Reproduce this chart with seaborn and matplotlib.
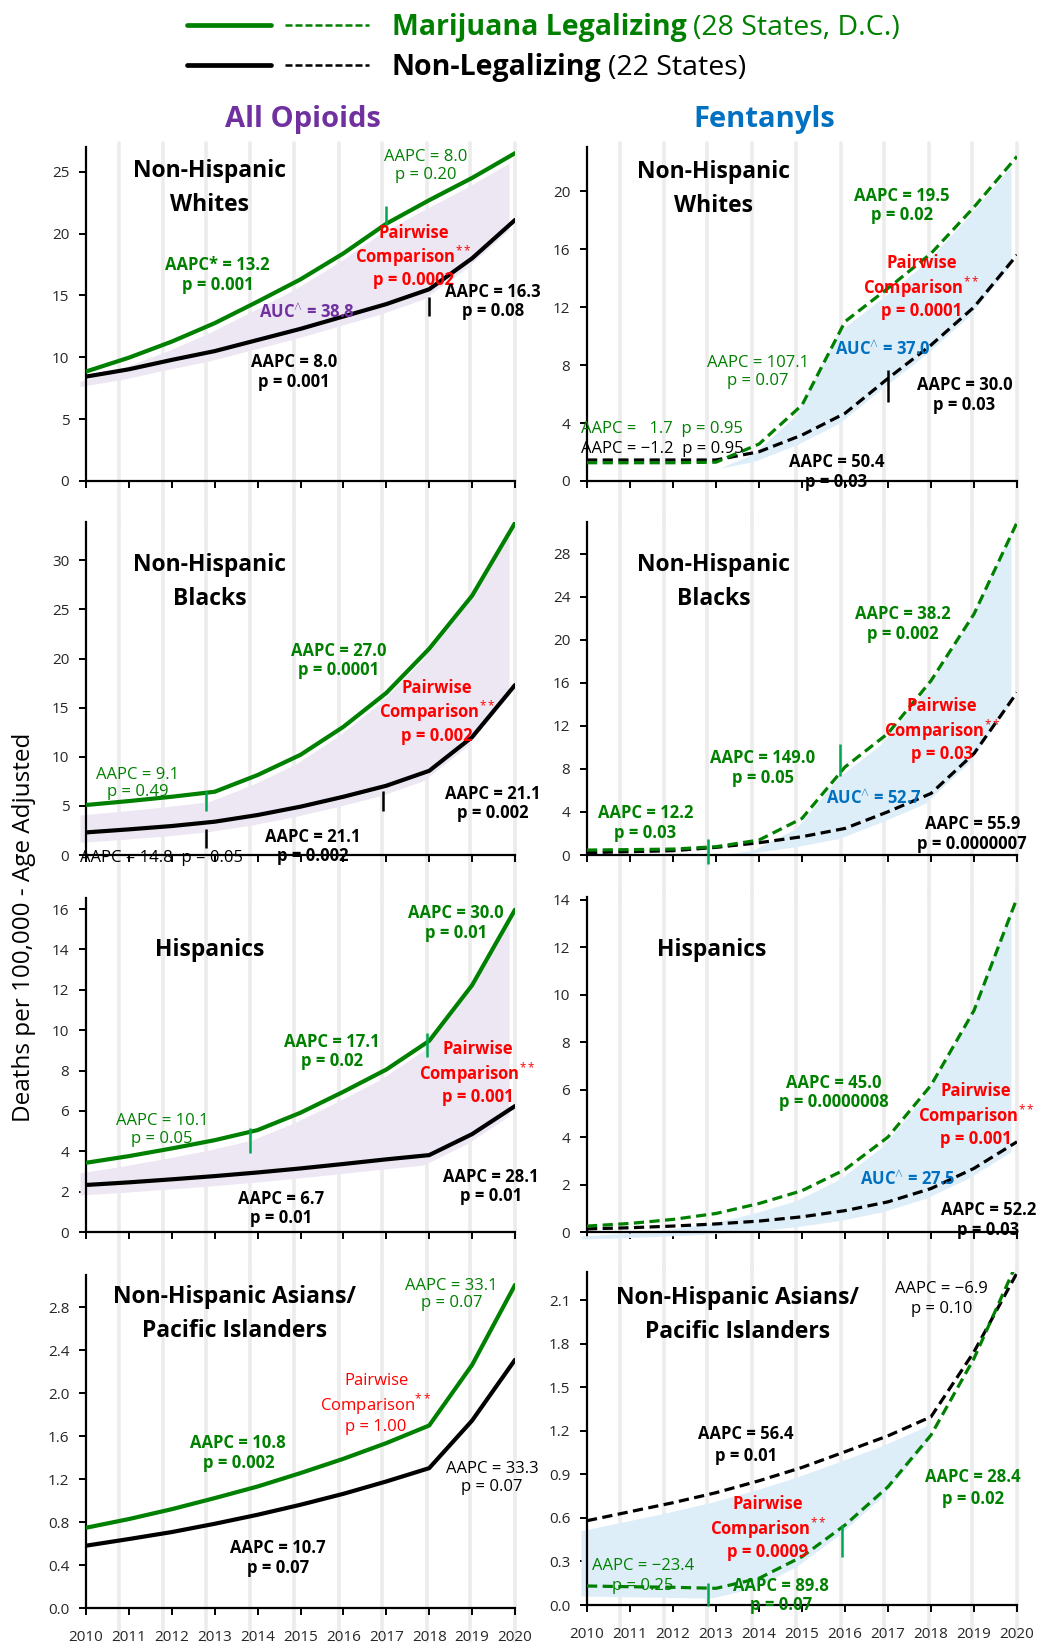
import matplotlib
matplotlib.use("Agg")
import matplotlib.pyplot as plt
import matplotlib.transforms as mtransforms
from matplotlib.lines import Line2D
from matplotlib.legend_handler import HandlerTuple
from matplotlib.text import Annotation
from matplotlib.font_manager import FontProperties
import numpy as np
import seaborn as sns

sns.set_theme(style="white")
plt.rcParams['font.family'] = ['Open Sans', 'DejaVu Sans']
plt.rcParams['mathtext.fontset'] = 'custom'
plt.rcParams['mathtext.rm'] = 'Open Sans'
plt.rcParams['mathtext.bf'] = 'Open Sans:bold'

# ---------------- data ----------------
years = [2010, 2011, 2012, 2013, 2014, 2015, 2016, 2017, 2018, 2019, 2020]

# All opioids (solid lines)
op_nhw_leg = [8.85, 9.97, 11.27, 12.76, 14.5, 16.3, 18.4, 20.8, 22.7, 24.5, 26.5]
op_nhw_non = [8.44, 9.03, 9.79, 10.5, 11.4, 12.3, 13.3, 14.3, 15.5, 18.0, 21.1]
op_nhb_leg = [5.09, 5.49, 5.93, 6.44, 8.14, 10.2, 13.05, 16.5, 21.0, 26.4, 33.8]
op_nhb_non = [2.3, 2.61, 2.95, 3.39, 4.07, 4.92, 5.93, 7.05, 8.57, 12.0, 17.3]
op_his_leg = [3.43, 3.76, 4.14, 4.55, 5.05, 5.91, 6.95, 8.05, 9.47, 12.23, 15.97]
op_his_non = [2.33, 2.46, 2.61, 2.77, 2.95, 3.15, 3.37, 3.6, 3.81, 4.85, 6.24]
op_api_leg = [0.747, 0.828, 0.92, 1.023, 1.131, 1.256, 1.389, 1.535, 1.699, 2.263, 3.007]
op_api_non = [0.58, 0.642, 0.707, 0.784, 0.868, 0.961, 1.063, 1.178, 1.302, 1.745, 2.31]

# Fentanyls (dashed lines)
fen_nhw_leg = [1.26, 1.26, 1.26, 1.3, 2.55, 5.24, 11.0, 13.3, 15.7, 18.9, 22.4]
fen_nhw_non = [1.45, 1.45, 1.45, 1.45, 2.02, 3.17, 4.67, 7.08, 9.38, 12.0, 15.6]
fen_nhb_leg = [0.46, 0.5, 0.55, 0.77, 1.39, 3.4, 8.18, 11.3, 16.2, 22.4, 30.9]
fen_nhb_non = [0.22, 0.31, 0.4, 0.71, 1.14, 1.7, 2.47, 4.02, 5.72, 9.43, 15.1]
fen_his_leg = [0.25, 0.36, 0.53, 0.78, 1.2, 1.74, 2.63, 4.0, 6.18, 9.33, 14.06]
fen_his_non = [0.13, 0.18, 0.25, 0.34, 0.46, 0.64, 0.9, 1.27, 1.83, 2.68, 3.8]
fen_api_leg = [0.131, 0.126, 0.122, 0.115, 0.184, 0.333, 0.551, 0.815, 1.171, 1.699, 2.36]
fen_api_non = [0.581, 0.643, 0.705, 0.774, 0.856, 0.948, 1.056, 1.166, 1.297, 1.745, 2.289]

yticks_op_nhw = [0, 5, 10, 15, 20, 25]
yticks_fen_nhw = [0, 4, 8, 12, 16, 20]
yticks_op_nhb = [0, 5, 10, 15, 20, 25, 30]
yticks_fen_nhb = [0, 4, 8, 12, 16, 20, 24, 28]
yticks_op_his = [0, 2, 4, 6, 8, 10, 12, 14, 16]
yticks_fen_his = [0, 2, 4, 6, 8, 10, 12, 14]
yticks_op_api = [0.0, 0.4, 0.8, 1.2, 1.6, 2.0, 2.4, 2.8]
yticks_fen_api = [0.0, 0.3, 0.6, 0.9, 1.2, 1.5, 1.8, 2.1]

# ---------------- styles ----------------
GREEN = '#008000'
GREEN_MARK = '#00a651'
RED = '#ff0000'
PURPLE = '#7030a0'
BLUE = '#0070c0'
LAVENDER = '#ece7f3'
LIGHTBLUE = '#ddeef9'
GRID = '#ececec'
DASH = (0, (3.2, 1.7))

W, H = 1039, 1644
fig = plt.figure(figsize=(W / 100, H / 100), dpi=100)

def add_ax(l, t, r, b):
    return fig.add_axes([l / W, 1 - b / H, (r - l) / W, (b - t) / H])

grid_offsets = [0.76, 1.79, 2.8, 3.83, 4.86, 5.9, 6.9, 7.95, 8.96, 10.0]

AUC = r"AUC$^{\wedge}$ = "
PAIR = "Pairwise\nComparison$^{**}$\n"
# annotation tuples: (text, x, y, color, weight, ha[, linespacing])
T = 'title'
PW = 'pair'
panels = [
    dict(box=(86, 147, 515, 481), leg=op_nhw_leg, non=op_nhw_non, ls='-', ylim=27.0,
         yticks=yticks_op_nhw, fmt='{:.0f}', band=LAVENDER, band_rng=(2010, 2020),
         marks=[(2017, 20.7, 22.2, GREEN_MARK), (2018, 13.3, 14.9, 'black')],
         texts=[("Non-Hispanic\nWhites", 2012.89, 23.66, 'black', T, 'center'),
                ("AAPC = 8.0\np = 0.20", 2017.91, 25.46, GREEN, 'normal', 'center'),
                ("AAPC* = 13.2\np = 0.001", 2013.07, 16.64, GREEN, 'bold', 'center'),
                (PAIR + "p = 0.0002", 2017.63, 18.15, RED, PW, 'center'),
                (AUC + "38.8", 2015.14, 13.67, PURPLE, 'bold', 'center'),
                ("AAPC = 16.3\np = 0.08", 2019.49, 14.51, 'black', 'bold', 'center'),
                ("AAPC = 8.0\np = 0.001", 2014.84, 8.82, 'black', 'bold', 'center')]),
    dict(box=(587, 147, 1017, 481), leg=fen_nhw_leg, non=fen_nhw_non, ls=DASH, ylim=23.05,
         yticks=yticks_fen_nhw, fmt='{:.0f}', band=LIGHTBLUE, band_rng=(2013.3, 2020),
         marks=[(2017, 5.45, 7.66, 'black')],
         texts=[("Non-Hispanic\nWhites", 2012.95, 20.17, 'black', T, 'center'),
                ("AAPC = 19.5\np = 0.02", 2017.33, 19.01, GREEN, 'bold', 'center'),
                (PAIR + "p = 0.0001", 2017.78, 13.38, RED, PW, 'center'),
                (AUC + "37.0", 2016.88, 9.13, BLUE, 'bold', 'center'),
                ("AAPC = 107.1\np = 0.07", 2013.97, 7.52, GREEN, 'normal', 'center'),
                ("AAPC = 30.0\np = 0.03", 2018.78, 5.93, 'black', 'bold', 'center'),
                ("AAPC =   1.7  p = 0.95", 2009.87, 3.61, GREEN, 'normal', 'left'),
                ("AAPC = \u22121.2  p = 0.95", 2009.87, 2.23, 'black', 'normal', 'left'),
                ("AAPC = 50.4\np = 0.03", 2015.8, 0.6, 'black', 'bold', 'center')]),
    dict(box=(86, 522, 515, 855), leg=op_nhb_leg, non=op_nhb_non, ls='-', ylim=33.9,
         yticks=yticks_op_nhb, fmt='{:.0f}', band=LAVENDER, band_rng=(2010, 2020),
         marks=[(2012.8, 4.5, 6.5, GREEN_MARK), (2012.8, 0.68, 2.6, 'black'),
                (2016.93, 4.5, 6.5, 'black')],
         texts=[("Non-Hispanic\nBlacks", 2012.88, 27.8, 'black', T, 'center'),
                ("AAPC = 27.0\np = 0.0001", 2015.89, 19.8, GREEN, 'bold', 'center'),
                (PAIR + "p = 0.002", 2018.18, 14.58, RED, PW, 'center'),
                ("AAPC = 9.1\np = 0.49", 2011.21, 7.29, GREEN, 'normal', 'center'),
                ("AAPC = 21.1\np = 0.002", 2019.48, 5.25, 'black', 'bold', 'center'),
                ("AAPC = 21.1\np = 0.002", 2015.29, 0.88, 'black', 'bold', 'center'),
                ("AAPC = 14.8  p = 0.05", 2009.86, -0.34, 'black', 'normal', 'left')]),
    dict(box=(587, 522, 1017, 855), leg=fen_nhb_leg, non=fen_nhb_non, ls=DASH, ylim=30.95,
         yticks=yticks_fen_nhb, fmt='{:.0f}', band=LIGHTBLUE, band_rng=(2013.5, 2020),
         marks=[(2012.82, -0.83, 1.45, GREEN_MARK), (2015.88, 7.32, 10.35, GREEN_MARK)],
         texts=[("Non-Hispanic\nBlacks", 2012.95, 25.38, 'black', T, 'center'),
                ("AAPC = 38.2\np = 0.002", 2017.35, 21.5, GREEN, 'bold', 'center'),
                (PAIR + "p = 0.03", 2018.26, 11.6, RED, PW, 'center'),
                ("AAPC = 149.0\np = 0.05", 2014.09, 8.08, GREEN, 'bold', 'center'),
                (AUC + "52.7", 2016.67, 5.26, BLUE, 'bold', 'center'),
                ("AAPC = 12.2\np = 0.03", 2011.36, 2.97, GREEN, 'bold', 'center'),
                ("AAPC = 55.9\np = 0.0000007", 2018.96, 1.98, 'black', 'bold', 'center')]),
    dict(box=(86, 898, 515, 1232), leg=op_his_leg, non=op_his_non, ls='-', ylim=16.55,
         yticks=yticks_op_his, fmt='{:.0f}', band=LAVENDER, band_rng=(2010, 2020),
         marks=[(2013.82, 3.93, 5.13, GREEN_MARK), (2017.96, 8.65, 9.87, GREEN_MARK)],
         texts=[("Hispanics", 2012.88, 13.98, 'black', T, 'center'),
                ("AAPC = 30.0\np = 0.01", 2018.62, 15.32, GREEN, 'bold', 'center'),
                ("AAPC = 17.1\np = 0.02", 2015.73, 8.95, GREEN, 'bold', 'center'),
                (PAIR + "p = 0.001", 2019.13, 7.86, RED, PW, 'center'),
                ("AAPC = 10.1\np = 0.05", 2011.77, 5.05, GREEN, 'normal', 'center'),
                ("AAPC = 6.7\np = 0.01", 2014.54, 1.16, 'black', 'bold', 'center'),
                ("AAPC = 28.1\np = 0.01", 2019.44, 2.25, 'black', 'bold', 'center')]),
    dict(box=(587, 897, 1017, 1232), leg=fen_his_leg, non=fen_his_non, ls=DASH, ylim=14.11,
         yticks=yticks_fen_his, fmt='{:.0f}', band=LIGHTBLUE, band_rng=(2010, 2020),
         marks=[],
         texts=[("Hispanics", 2012.91, 11.87, 'black', T, 'center'),
                ("AAPC = 45.0\np = 0.0000008", 2015.74, 5.88, GREEN, 'bold', 'center'),
                (PAIR + "p = 0.001", 2019.05, 4.92, RED, PW, 'center'),
                (AUC + "27.5", 2017.46, 2.25, BLUE, 'bold', 'center'),
                ("AAPC = 52.2\np = 0.03", 2019.33, 0.51, 'black', 'bold', 'center')]),
    dict(box=(86, 1275, 515, 1608), leg=op_api_leg, non=op_api_non, ls='-', ylim=3.1,
         yticks=yticks_op_api, fmt='{:.1f}', band=None, band_rng=None,
         marks=[],
         texts=[("Non-Hispanic Asians/\nPacific Islanders", 2013.47, 2.735, 'black', T, 'center'),
                ("AAPC = 33.1\np = 0.07", 2018.52, 2.92, GREEN, 'normal', 'center'),
                (PAIR + "p = 1.00", 2016.76, 1.9, RED, 'pairnormal', 'center'),
                ("AAPC = 10.8\np = 0.002", 2013.55, 1.445, GREEN, 'bold', 'center'),
                ("AAPC = 33.3\np = 0.07", 2019.46, 1.212, 'black', 'normal', 'center'),
                ("AAPC = 10.7\np = 0.07", 2014.47, 0.465, 'black', 'bold', 'center')]),
    dict(box=(587, 1272, 1017, 1605), leg=fen_api_leg, non=fen_api_non, ls=DASH, ylim=2.295,
         yticks=yticks_fen_api, fmt='{:.1f}', band=LIGHTBLUE, band_rng=(2010, 2018.1),
         marks=[(2012.82, -0.007, 0.15, GREEN_MARK), (2015.92, 0.328, 0.551, GREEN_MARK)],
         texts=[("Non-Hispanic Asians/\nPacific Islanders", 2013.49, 2.0, 'black', T, 'center'),
                ("AAPC = \u22126.9\np = 0.10", 2018.25, 2.11, 'black', 'normal', 'center', 1.3),
                ("AAPC = 56.4\np = 0.01", 2013.69, 1.104, 'black', 'bold', 'center', 1.3),
                ("AAPC = 28.4\np = 0.02", 2018.97, 0.804, GREEN, 'bold', 'center', 1.3),
                (PAIR + "p = 0.0009", 2014.21, 0.53, RED, PW, 'center'),
                ("AAPC = \u221223.4\np = 0.25", 2011.3, 0.198, GREEN, 'normal', 'center', 1.35),
                ("AAPC = 89.8\np = 0.07", 2014.51, 0.066, GREEN, 'bold', 'center')]),
]

xf = np.linspace(2010, 2020, 801)

for i, p in enumerate(panels):
    ax = add_ax(*p['box'])
    bottom_row = i >= 6
    solid = p['ls'] == '-'
    lw = 3.0 if solid else 2.3

    # vertical light grey stripes
    for g in grid_offsets:
        ax.axvline(2010 + g, ymin=(-0.1 if bottom_row else -0.125), ymax=1.012,
                   color=GRID, lw=2.6, zorder=0, clip_on=False)

    # shaded area between the two series (slightly offset, as in the source)
    if p['band'] is not None:
        up = np.interp(xf, years, p['leg'])
        lo = np.interp(xf, years, p['non'])
        mask = (xf >= p['band_rng'][0]) & (xf <= p['band_rng'][1])
        trans = mtransforms.offset_copy(ax.transData, fig=fig, x=-6, y=-10, units='dots')
        ax.fill_between(xf, up, lo, where=mask, color=p['band'], lw=0,
                        transform=trans, clip_on=False, zorder=1)

    sns.lineplot(x=years, y=p['non'], ax=ax, color='black', linewidth=lw,
                 linestyle=p['ls'], zorder=3, legend=False)
    sns.lineplot(x=years, y=p['leg'], ax=ax, color=GREEN, linewidth=lw,
                 linestyle=p['ls'], zorder=3, legend=False)

    for (mx, y0, y1, c) in p['marks']:
        ax.vlines(mx, y0, y1, color=c, lw=1.8, zorder=4, clip_on=False)

    for item in p['texts']:
        txt, tx, ty, c, wt, ha = item[:6]
        if wt == T:
            ax.text(tx, ty, txt, color=c, fontsize=16.5, fontweight='bold', ha=ha,
                    va='center', multialignment='center', linespacing=1.55, zorder=5)
        elif wt in (PW, 'pairnormal'):
            ax.text(tx, ty, txt, color=c, fontsize=12,
                    fontweight=('bold' if wt == PW else 'normal'), ha=ha,
                    va='center', multialignment='center', linespacing=1.1, zorder=5)
        else:
            lsp = item[6] if len(item) > 6 else 1.12
            ax.text(tx, ty, txt, color=c, fontsize=12, fontweight=wt, ha=ha,
                    va='center', multialignment='center', linespacing=lsp, zorder=5)

    ax.set_xlim(2010, 2020)
    ax.set_ylim(0, p['ylim'])
    ax.set_xticks(years)
    ax.set_yticks(p['yticks'])
    ax.set_yticklabels([p['fmt'].format(v) for v in p['yticks']])
    if bottom_row:
        ax.set_xticklabels([str(y) for y in years])
    else:
        ax.set_xticklabels([])
    ax.set_xlabel('')
    ax.set_ylabel('')
    sns.despine(ax=ax)
    for s in ('left', 'bottom'):
        ax.spines[s].set_color('black')
        ax.spines[s].set_linewidth(1.6)
    ax.tick_params(axis='y', direction='out', length=5, width=1.4, color='black',
                   labelsize=11, pad=7, left=True)
    ax.tick_params(axis='x', direction='out', length=5, width=1.4, color='black',
                   labelsize=11, pad=11, bottom=True)
    ax.set_facecolor('none')

# column headers and y label
fig.text(303 / W, 1 - 120 / H, 'All Opioids', color=PURPLE, fontsize=21,
         fontweight='bold', ha='center', va='center')
fig.text(764 / W, 1 - 120 / H, 'Fentanyls', color=BLUE, fontsize=21,
         fontweight='bold', ha='center', va='center')
fig.text(24 / W, 1 - 927 / H, 'Deaths per 100,000 - Age Adjusted', rotation=90,
         fontsize=17.5, ha='center', va='center', color='black')

# legend
LDASH = (0, (2.8, 1.2))
h_leg = (Line2D([], [], color=GREEN, lw=3.4), Line2D([], [], color=GREEN, lw=1.8, ls=LDASH))
h_non = (Line2D([], [], color='black', lw=3.4), Line2D([], [], color='black', lw=1.8, ls=LDASH))
leg = fig.legend([h_leg, h_non], ['Marijuana Legalizing', 'Non-Legalizing'],
                 handler_map={tuple: HandlerTuple(ndivide=None, pad=0.5)},
                 loc='upper left', bbox_to_anchor=(187 / W, 1 - 13 / H),
                 frameon=False, borderpad=0, borderaxespad=0, handlelength=6.4,
                 handletextpad=0.8, labelspacing=0.4,
                 prop=FontProperties(family=['Open Sans', 'DejaVu Sans'], weight='bold', size=20.5))
leg_colors = [GREEN, 'black']
suffixes = ['(28 States, D.C.)', '(22 States)']
for t, c, s in zip(leg.get_texts(), leg_colors, suffixes):
    t.set_color(c)
    a = Annotation(s, xy=(1, 0), xycoords=t, xytext=(6, 0), textcoords='offset pixels',
                   ha='left', va='bottom', fontsize=20.5, color=c, zorder=10)
    fig.add_artist(a)

fig.savefig('out.png', dpi=100)
